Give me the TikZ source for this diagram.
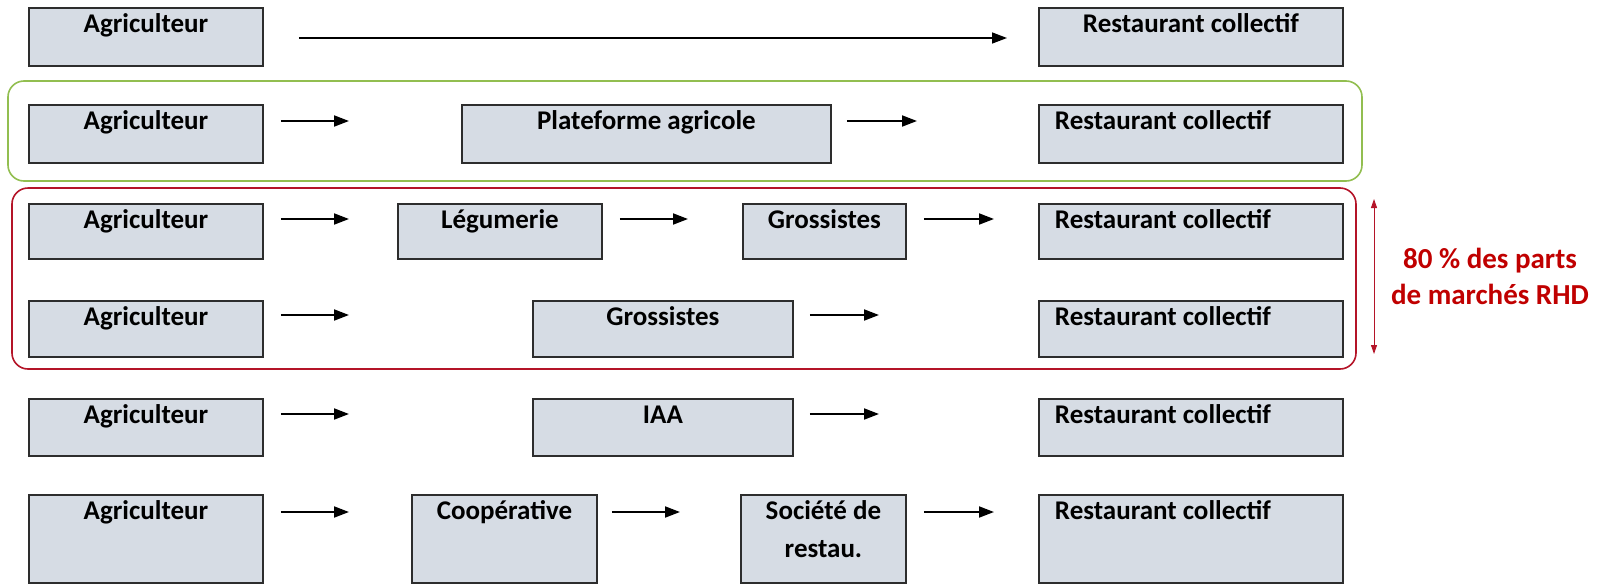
\documentclass[tikz,border=0pt]{standalone}
\usepackage{fontspec}
\setmainfont{Carlito}
\usetikzlibrary{arrows.meta,positioning}

\definecolor{boxfill}{RGB}{214,220,228}
\definecolor{boxline}{RGB}{45,45,45}
\definecolor{rhdred}{RGB}{192,0,0}
\definecolor{groupgreen}{RGB}{146,190,80}
\definecolor{groupred}{RGB}{180,20,40}

\tikzset{
  box/.style={draw=boxline, fill=boxfill, line width=1.9pt, anchor=north west, inner xsep=0pt, inner ysep=0pt, align=flush center, text height=25pt, font=\bfseries\fontsize{27}{38}\selectfont, execute at begin node={\spaceskip=0pt\xspaceskip=0pt\relax}},
  lbox/.style={box, align=flush left, inner xsep=16pt, text width=272pt},
  flow/.style={-{Triangle[length=15pt,width=11pt]}, line width=1.9pt},
  group/.style={rounded corners=16pt, line width=1.6pt}
}

\begin{document}
\begin{tikzpicture}[x=1pt, y=-1pt]
    \useasboundingbox (0,0) rectangle (1620,584);

    % Groups
    \draw[group, draw=groupgreen] (8,81) rectangle (1362,181);
    \draw[group, draw=groupred] (12,188) rectangle (1356,369);

    % Row 1 - direct
    \node[box, text width=234pt, text depth=33pt] (agrA) at (28,7) {Agriculteur};
    \node[box, text width=304pt, text depth=33pt] (restA) at (1038,7) {Restaurant collectif};

    % Row 2 - plateforme
    \node[box, text width=234pt, text depth=33pt] (agrB) at (28,104) {Agriculteur};
    \node[box, text width=369pt, text depth=33pt] (plat) at (461,104) {Plateforme agricole};
    \node[lbox, text depth=33pt] (restB) at (1038,104) {Restaurant collectif};

    % Row 3 - legumerie + grossistes
    \node[box, text width=234pt, text depth=30pt] (agrC) at (28,203) {Agriculteur};
    \node[box, text width=204pt, text depth=30pt] (leg) at (397,203) {Légumerie};
    \node[box, text width=163pt, text depth=30pt] (grosC) at (742,203) {Grossistes};
    \node[lbox, text depth=30pt] (restC) at (1038,203) {Restaurant collectif};

    % Row 4 - grossistes
    \node[box, text width=234pt, text depth=31pt] (agrD) at (28,300) {Agriculteur};
    \node[box, text width=260pt, text depth=31pt] (grosD) at (532,300) {Grossistes};
    \node[lbox, text depth=31pt] (restD) at (1038,300) {Restaurant collectif};

    % Row 5 - IAA
    \node[box, text width=234pt, text depth=32pt] (agrE) at (28,398) {Agriculteur};
    \node[box, text width=260pt, text depth=32pt] (iaa) at (532,398) {IAA};
    \node[lbox, text depth=32pt] (restE) at (1038,398) {Restaurant collectif};

    % Row 6 - cooperative
    \node[box, text width=234pt, text depth=63pt] (agrF) at (28,494) {Agriculteur};
    \node[box, text width=185pt, text depth=63pt] (coop) at (411,494) {Coopérative};
    \node[box, text width=165pt, text depth=63pt] (soc) at (740,494) {Société de\\restau.};
    \node[lbox, text depth=63pt] (restF) at (1038,494) {Restaurant collectif};

    % Share of market
    \node[font=\bfseries\fontsize{29}{36}\selectfont, text=rhdred, align=center] (share) at (1490,276) {80 \% des parts\\de marchés RHD};
    \coordinate (rtop) at (1374,199);
    \coordinate (rbot) at (1374,354);

    % Arrows
    \draw[-{Triangle[length=15pt,width=11pt]}, line width=1.5pt] ([xshift=35,yshift=-31]agrA.north east) -- ([xshift=-31,yshift=-31]restA.north west);

    \draw[flow] ([xshift=17,yshift=-17]agrB.north east) -- ([xshift=-112,yshift=-17]plat.north west);
    \draw[flow] ([xshift=15,yshift=-17]plat.north east) -- ([xshift=-121,yshift=-17]restB.north west);

    \draw[flow] ([xshift=17,yshift=-16]agrC.north east) -- ([xshift=-48,yshift=-16]leg.north west);
    \draw[flow] ([xshift=17,yshift=-16]leg.north east) -- ([xshift=-54,yshift=-16]grosC.north west);
    \draw[flow] ([xshift=17,yshift=-16]grosC.north east) -- ([xshift=-44,yshift=-16]restC.north west);

    \draw[flow] ([xshift=17,yshift=-15]agrD.north east) -- ([xshift=-183,yshift=-15]grosD.north west);
    \draw[flow] ([xshift=16,yshift=-15]grosD.north east) -- ([xshift=-159,yshift=-15]restD.north west);

    \draw[flow] ([xshift=17,yshift=-16]agrE.north east) -- ([xshift=-183,yshift=-16]iaa.north west);
    \draw[flow] ([xshift=16,yshift=-16]iaa.north east) -- ([xshift=-159,yshift=-16]restE.north west);

    \draw[flow] ([xshift=17,yshift=-18]agrF.north east) -- ([xshift=-62,yshift=-18]coop.north west);
    \draw[flow] ([xshift=14,yshift=-18]coop.north east) -- ([xshift=-60,yshift=-18]soc.north west);
    \draw[flow] ([xshift=17,yshift=-18]soc.north east) -- ([xshift=-44,yshift=-18]restF.north west);

    \draw[{Triangle[length=9pt,width=6pt]}-{Triangle[length=9pt,width=6pt]}, line width=0.9pt, draw=groupred, fill=groupred] (rtop) -- (rbot);
\end{tikzpicture}
\end{document}
